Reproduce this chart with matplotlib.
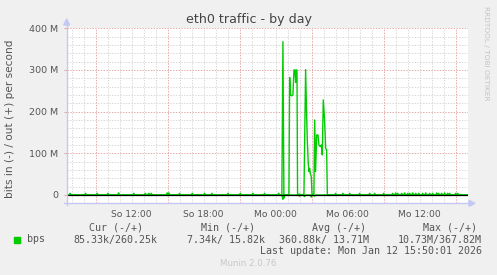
import numpy as np
import matplotlib
matplotlib.use("Agg")
import matplotlib.pyplot as plt
from matplotlib.patches import Rectangle, Polygon

# ---------------- data (hours since Sunday 00:00, values in M bit/s) ----------------
active_hours = [24.42, 24.52, 24.61, 24.69, 24.83, 25.03, 25.11, 25.17, 25.25, 25.33,
                25.44, 25.53, 25.61, 25.67, 25.72, 25.78, 25.83, 26.00, 26.17, 26.36,
                26.50, 26.58, 26.64, 26.72, 26.78, 26.83, 26.89, 26.97, 27.03, 27.19,
                27.25, 27.33, 27.42, 27.53, 27.61, 27.72, 27.81, 27.89, 27.97, 28.08,
                28.17, 28.25, 28.31, 28.50]
active_out = [0.3, 1, 368, 0, 0.5, 1, 2, 282, 240, 238,
              240, 300, 300, 270, 300, 300, 1, 2, 0.5, 1.5,
              301, 196, 132, 76, 56, 64, 52, 44, 1, 2,
              180, 56, 144, 144, 120, 116, 120, 96, 228, 180,
              112, 108, 0.5, 0.3]
in_hours = [24.61, 24.69, 26.00, 26.40, 26.97, 27.25]
in_vals = [10.7, 8, 3, 4, 5, 3]

blip_hours = [6.89, 8.17, 9.14, 10.03, 10.92, 12.19, 13.14, 13.44, 13.64, 14.97,
              15.11, 16.00, 17.06, 18.08, 18.69, 20.03, 21.06, 22.11, 23.08, 24.25,
              29.00, 29.61, 30.17, 31.00, 31.83, 32.25, 33.00, 33.75, 34.00, 34.17,
              34.50, 34.75, 35.00, 35.17, 35.42, 35.67, 35.92, 36.25, 36.50, 36.83,
              37.08, 37.42, 37.58, 37.83, 38.08, 38.33, 38.50, 39.00, 39.17]
blip_vals = [4, 4, 4, 4, 5, 4, 4, 4, 4, 5,
             5, 4, 4, 4, 4, 4, 4, 4, 4, 4,
             4, 4, 4, 4, 4, 4, 4, 4, 5, 4,
             4, 5, 4, 4, 5, 4, 4, 4, 5, 4,
             4, 5, 4, 4, 5, 4, 4, 4, 4]

x_start, x_end = 6.6, 40.0
y_ticks = [0, 100, 200, 300, 400]
y_ticklabels = ["0", "100 M", "200 M", "300 M", "400 M"]
x_label_hours = [12, 18, 24, 30, 36]
x_ticklabels = ["So 12:00", "So 18:00", "Mo 00:00", "Mo 06:00", "Mo 12:00"]

legend_headers = ["Cur (-/+)", "Min (-/+)", "Avg (-/+)", "Max (-/+)"]
legend_values = ["85.33k/260.25k", "7.34k/ 15.82k", "360.88k/ 13.71M", "10.73M/367.82M"]

# ---------------- build line series ----------------
step = 1 / 12
out_h = [x_start, x_end]
out_v = [0.0, 0.0]
for h, v in zip(blip_hours, blip_vals):
    out_h += [h - step, h, h + step]
    out_v += [0.0, v, 0.0]
out_h += active_hours
out_v += active_out
order = np.argsort(out_h, kind="stable")
out_h = np.array(out_h)[order]
out_v = np.array(out_v)[order]

inn_h = [x_start]
inn_v = [0.0]
for h, v in zip(in_hours, in_vals):
    inn_h += [h - step, h, h + step]
    inn_v += [0.0, -v, 0.0]
inn_h += [x_end]
inn_v += [0.0]

# ---------------- figure ----------------
W, H = 497, 275
def px(x, y):
    return x / W, 1 - y / H

plt.rcParams["lines.scale_dashes"] = False
fig = plt.figure(figsize=(W / 100, H / 100), dpi=100, facecolor="#F0F0F0")
L, R, T, B = 66.7, 467.7, 28.3, 203.3
ax = fig.add_axes([L / W, 1 - B / H, (R - L) / W, (B - T) / H])
ax.set_facecolor("white")
ax.set_xlim(x_start, x_end)
ax.set_ylim(-20, 400)
for s in ax.spines.values():
    s.set_visible(False)

dot = (0, (1.0, 1.0))
minor_c = "#D8D8D8"
major_c = "#E6A8A8"
for yv in np.arange(-20, 401, 20):
    if yv % 100 == 0:
        continue
    ax.axhline(yv, color=minor_c, lw=0.7, ls=dot, zorder=1)
for yv in y_ticks[1:]:
    ax.axhline(yv, color=major_c, lw=0.7, ls=dot, zorder=1.5)
for xv in np.arange(7, 40, 1):
    if (xv - 3) % 6 == 0:
        continue
    ax.axvline(xv, color=minor_c, lw=0.7, ls=dot, zorder=1)
for xv in np.arange(9, 40, 6):
    ax.axvline(xv, color=major_c, lw=0.7, ls=dot, zorder=1.5)

ax.plot(out_h, out_v, color="#00CC00", lw=1.0, zorder=3)
ax.plot(inn_h, inn_v, color="#00CC00", lw=1.0, zorder=3)
ax.axhline(0, color="black", lw=0.9, zorder=4)

ax.set_yticks(y_ticks)
ax.set_yticklabels(y_ticklabels)
ax.set_xticks(x_label_hours)
ax.set_xticklabels(x_ticklabels)
ax.tick_params(axis="y", length=2, color=major_c, pad=4, labelsize=6.8, labelcolor="#555555")
ax.tick_params(axis="x", length=0, pad=4.5, labelsize=6.6, labelcolor="#555555")

# axes (light blue with arrows)
axis_c = "#C4C8F4"
fig.add_artist(plt.Line2D([L / W, L / W], [1 - 205 / H, 1 - 24 / H], color=axis_c, lw=1.0))
fig.add_artist(plt.Line2D([64 / W, 470 / W], [1 - B / H, 1 - B / H], color=axis_c, lw=1.0))
fig.add_artist(Polygon([px(63.7, 25), px(69.7, 25), px(66.7, 19)], closed=True,
                       transform=fig.transFigure, color=axis_c))
fig.add_artist(Polygon([px(469, 200.3), px(469, 206.3), px(475, 203.3)], closed=True,
                       transform=fig.transFigure, color=axis_c))

# texts
fig.text(*px(249, 20), "eth0 traffic - by day", ha="center", va="center",
         fontsize=9.1, color="#444444")
fig.text(*px(10, 119), "bits in (-) / out (+) per second", rotation=90,
         ha="center", va="center", fontsize=7.6, color="#555555")
fig.text(*px(486, 53), "RRDTOOL / TOBI OETIKER", rotation=270, ha="center",
         va="center", fontsize=5.3, color="#C4C4C4")

mono = "DejaVu Sans Mono"
fig.add_artist(Rectangle(px(14, 242.5), 6 / W, 6 / H, transform=fig.transFigure,
                         color="#00CC00"))
fig.text(*px(27, 239.5), "bps", ha="left", va="center", fontsize=7.2,
         family=mono, color="#555555")
hdr_cx = [116, 227.6, 338.7, 449.7]
val_cx = [115.3, 226, 324, 439.7]
for t, cx in zip(legend_headers, hdr_cx):
    fig.text(*px(cx, 228), t, ha="center", va="center", fontsize=7.2,
             family=mono, color="#555555")
for t, cx in zip(legend_values, val_cx):
    fig.text(*px(cx, 239.5), t, ha="center", va="center", fontsize=7.2,
             family=mono, color="#555555")
fig.text(*px(482.5, 251), "Last update: Mon Jan 12 15:50:01 2026", ha="right",
         va="center", fontsize=7.2, family=mono, color="#555555")
fig.text(*px(248, 264), "Munin 2.0.76", ha="center", va="center", fontsize=6.2,
         color="#C8C8C8")

fig.savefig("out.png", dpi=100, facecolor=fig.get_facecolor())
